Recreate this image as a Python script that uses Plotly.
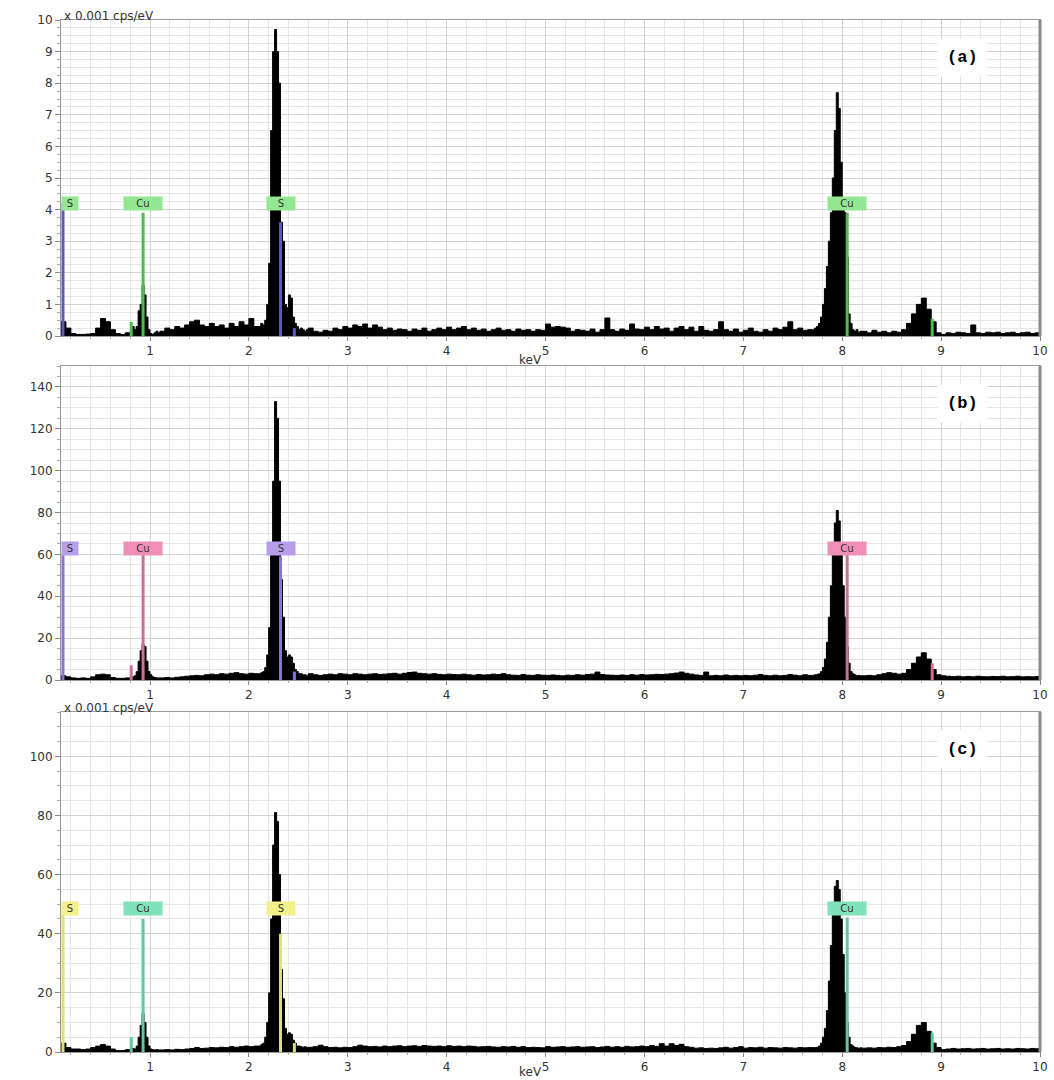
import plotly.graph_objects as go

# ---------------- data ----------------
energy_kev = [
    0.10, 0.15, 0.20, 0.25, 0.30, 0.35, 0.40, 0.45, 0.50, 0.55, 0.60, 0.65, 0.70, 0.75,
    0.80, 0.82, 0.84, 0.86, 0.88, 0.90, 0.92, 0.94, 0.96, 0.98, 1.00, 1.02, 1.04, 1.06, 1.08,
    1.10, 1.15, 1.20, 1.25, 1.30, 1.35, 1.40, 1.45, 1.50, 1.55, 1.60, 1.65, 1.70, 1.75, 1.80,
    1.85, 1.90, 1.95, 2.00, 2.05,
    2.10, 2.12, 2.14, 2.16, 2.18, 2.20, 2.22, 2.24, 2.26, 2.28, 2.30, 2.32, 2.34, 2.36, 2.38,
    2.40, 2.42, 2.44, 2.46, 2.48, 2.50, 2.52, 2.54, 2.56, 2.58,
    2.60, 2.65, 2.70, 2.75, 2.80, 2.85, 2.90, 2.95,
    3.00, 3.05, 3.10, 3.15, 3.20, 3.25, 3.30, 3.35, 3.40, 3.45, 3.50, 3.55, 3.60, 3.65, 3.70, 3.75, 3.80, 3.85, 3.90, 3.95,
    4.00, 4.05, 4.10, 4.15, 4.20, 4.25, 4.30, 4.35, 4.40, 4.45, 4.50, 4.55, 4.60, 4.65, 4.70, 4.75, 4.80, 4.85, 4.90, 4.95,
    5.00, 5.05, 5.10, 5.15, 5.20, 5.25, 5.30, 5.35, 5.40, 5.45, 5.50, 5.55, 5.60, 5.65, 5.70, 5.75, 5.80, 5.85, 5.90, 5.95,
    6.00, 6.05, 6.10, 6.15, 6.20, 6.25, 6.30, 6.35, 6.40, 6.45, 6.50, 6.55, 6.60, 6.65, 6.70, 6.75, 6.80, 6.85, 6.90, 6.95,
    7.00, 7.05, 7.10, 7.15, 7.20, 7.25, 7.30, 7.35, 7.40, 7.45, 7.50, 7.55, 7.60, 7.65,
    7.70, 7.72, 7.74, 7.76, 7.78, 7.80, 7.82, 7.84, 7.86, 7.88, 7.90, 7.92, 7.94, 7.96, 7.98,
    8.00, 8.02, 8.04, 8.06, 8.08, 8.10, 8.12, 8.14, 8.16, 8.18,
    8.20, 8.25, 8.30, 8.35, 8.40, 8.45, 8.50, 8.55, 8.60, 8.65, 8.70, 8.75, 8.80, 8.85, 8.90, 8.95,
    9.00, 9.05, 9.10, 9.15, 9.20, 9.25, 9.30, 9.35, 9.40, 9.45, 9.50, 9.55, 9.60, 9.65, 9.70, 9.75, 9.80, 9.85, 9.90, 9.95,
    10.0,
]

counts_a = [
    0.45, 0.25, 0.08, 0.05, 0.05, 0.06, 0.08, 0.25, 0.55, 0.45, 0.2, 0.08, 0.05, 0.1,
    0.15, 0.3, 0.2, 0.3, 0.8, 1.0, 1.6, 1.3, 0.6, 0.2, 0.08, 0.05, 0.1, 0.15, 0.1,
    0.15, 0.25, 0.2, 0.3, 0.25, 0.35, 0.45, 0.5, 0.35, 0.3, 0.4, 0.3, 0.35, 0.25, 0.4, 0.3, 0.45, 0.35, 0.55, 0.3,
    0.3, 0.4, 0.35, 0.5, 1.0, 2.3, 6.5, 9.0, 9.7, 9.0, 8.0, 3.6, 3.0, 1.0, 0.9, 1.3, 1.2, 0.6, 0.4, 0.3, 0.2, 0.25, 0.2, 0.15, 0.2,
    0.25, 0.15, 0.12, 0.18, 0.15, 0.25, 0.2, 0.3,
    0.25, 0.35, 0.3, 0.38, 0.25, 0.35, 0.28, 0.2, 0.25, 0.18, 0.22, 0.2, 0.15, 0.22, 0.18, 0.25, 0.15, 0.2, 0.25, 0.2,
    0.28, 0.2, 0.25, 0.3, 0.2, 0.25, 0.18, 0.22, 0.15, 0.2, 0.25, 0.18, 0.2, 0.15, 0.22, 0.18, 0.2, 0.15, 0.2, 0.18,
    0.38, 0.28, 0.3, 0.28, 0.25, 0.15, 0.2, 0.18, 0.15, 0.22, 0.12, 0.2, 0.57, 0.2, 0.15, 0.22, 0.18, 0.38, 0.22, 0.2,
    0.28, 0.2, 0.3, 0.22, 0.25, 0.15, 0.25, 0.3, 0.2, 0.28, 0.15, 0.3, 0.18, 0.15, 0.2, 0.45, 0.2, 0.15, 0.22, 0.12,
    0.18, 0.25, 0.15, 0.12, 0.2, 0.15, 0.25, 0.2, 0.28, 0.45, 0.2, 0.25, 0.18, 0.2,
    0.2, 0.25, 0.3, 0.4, 0.6, 1.0, 1.5, 2.2, 3.0, 3.9, 5.0, 6.5, 7.7, 7.2, 5.5, 4.2, 3.9, 2.5, 0.7, 0.4, 0.2, 0.15, 0.2, 0.12, 0.15,
    0.15, 0.1, 0.18, 0.12, 0.15, 0.1, 0.15, 0.12, 0.2, 0.4, 0.7, 1.0, 1.2, 0.85, 0.45, 0.1,
    0.05, 0.1, 0.08, 0.12, 0.1, 0.08, 0.35, 0.1, 0.08, 0.12, 0.1, 0.12, 0.08, 0.1, 0.12, 0.08, 0.1, 0.12, 0.08, 0.1,
    0.08,
]

counts_b = [
    2, 1.5, 1, 0.8, 1, 0.8, 1.5, 2.5, 2.8, 2.5, 1.2, 0.8, 0.8, 1.0,
    1.5, 1.5, 2, 4, 9, 14, 17, 16, 9, 4, 2.5, 1.5, 1.2, 1, 1,
    1.0, 1.2, 1.0, 1.3, 1.5, 1.8, 2.0, 2.2, 2.0, 2.5, 2.8, 2.5, 3.0, 2.8, 3.2, 3.5, 3.0, 2.8, 3.2, 3.0,
    3, 3.5, 4, 6, 12, 25, 60, 95, 133, 125, 95, 48, 30, 14, 11, 12, 11, 8, 5, 4, 3, 3, 2.5, 2.5, 2,
    3, 2.5, 2.2, 2.5, 2.8, 2.5, 3.0, 2.8,
    2.5, 3.0, 2.8, 2.5, 2.8, 3.0, 2.7, 2.8, 3.0, 3.2, 2.8, 3.2, 3.6, 3.8, 3.2, 3.0, 2.8, 3.0, 2.7, 2.5,
    2.8, 2.6, 2.5, 2.8, 2.5, 2.3, 2.6, 2.4, 2.5, 2.8, 2.6, 3.0, 2.5, 2.3, 2.2, 2.6, 2.3, 2.2, 2.5, 2.3,
    2.2, 2.4, 2.2, 2.0, 2.3, 2.2, 2.5, 2.3, 2.6, 2.8, 3.8, 2.6, 2.4, 2.3, 2.2, 2.4, 2.2, 2.5, 2.3, 2.6,
    2.4, 2.5, 2.7, 2.6, 2.8, 3.0, 3.3, 3.8, 3.2, 2.8, 2.4, 2.2, 3.8, 2.0, 2.2, 2.0, 2.4, 2.0, 2.2, 2.0,
    2.2, 2.0, 2.3, 2.6, 2.2, 2.0, 2.3, 2.0, 2.2, 2.6, 2.3, 2.0, 2.5, 2.2,
    2.2, 2.5, 2.6, 3.0, 4.0, 6, 10, 18, 30, 45, 62, 75, 81, 76, 62, 45, 30, 16, 8, 4, 3, 2.5, 2.0, 2.2, 2.0,
    2.0, 2.2, 2.0, 2.5, 3.0, 3.5, 3.2, 2.8, 3.2, 5, 8, 11, 13, 10, 5, 2.5,
    2.0, 1.8, 1.6, 1.8, 1.5, 1.7, 1.5, 1.8, 1.6, 1.5, 1.7, 1.6, 1.8, 1.5, 1.6, 1.8, 1.5, 1.6, 1.5, 1.7,
    1.6,
]

counts_c = [
    3, 1.5, 1, 1, 0.8, 1, 1.5, 2, 2.5, 2, 1, 0.5, 0.5, 0.8,
    1, 1.2, 1, 2, 5, 9, 13, 10, 5, 2, 1, 0.8, 0.7, 0.8, 0.7,
    0.7, 0.8, 0.7, 0.9, 0.8, 1.0, 1.2, 1.5, 1.2, 1.3, 1.5, 1.4, 1.6, 1.5, 1.8, 1.6, 1.8, 2.0, 1.8, 2.0,
    2, 2.5, 3, 5, 10, 20, 45, 70, 81, 78, 60, 28, 18, 8, 6, 6.5, 6, 4, 3, 2, 2, 1.8, 1.6, 1.8, 1.5,
    1.6, 1.8, 2.3, 1.8, 1.5, 1.6, 1.4, 1.6,
    1.5, 1.8, 2.3, 2.0, 1.8, 1.9, 1.7, 2.0, 1.8, 2.0, 2.1, 1.8, 2.0, 2.1, 1.9, 2.2, 2.0, 1.9, 2.0, 1.8,
    2.1, 1.9, 2.0, 1.8, 2.0, 1.9, 1.7, 1.8, 1.9, 1.7, 1.6, 1.8, 1.7, 1.9, 1.6, 1.8, 1.5, 1.6, 1.5, 1.4,
    1.8, 1.6, 1.7, 1.8, 1.6, 1.7, 1.8, 1.6, 1.7, 1.8, 1.5, 1.7, 1.9, 1.6, 1.8, 1.6, 1.9, 1.7, 1.8, 2.0,
    1.8, 2.2, 1.9, 2.8, 2.0, 2.8, 2.2, 2.6, 1.8, 1.6, 1.3, 1.4, 1.2, 1.3, 1.2, 1.4, 1.6, 1.3, 1.5, 1.8,
    1.3, 1.5, 1.4, 1.6, 1.3, 1.5, 1.4, 1.3, 1.5, 1.4, 1.3, 1.5, 1.4, 1.5,
    1.5, 1.5, 1.6, 2.0, 3, 5, 8, 14, 24, 36, 48, 56, 58, 55, 45, 33, 20, 10, 5, 2.5, 2.0, 1.5, 1.4, 1.3, 1.4,
    1.3, 1.4, 1.3, 1.5, 1.4, 1.6, 1.5, 1.8, 2.2, 3.5, 6, 9, 10, 7, 3, 1.5,
    0.8, 1.0, 1.2, 1.0, 1.1, 1.2, 1.0, 1.1, 1.2, 1.0, 1.1, 1.2, 1.0, 1.1, 1.0, 1.2, 1.1, 1.0, 1.2, 1.1,
    1.0,
]

# element identification markers (keV), shared by the three spectra
marker_energy = [0.12, 0.81, 0.93, 2.32, 2.46, 8.05, 8.91]
marker_element = ["S", "Cu", "Cu", "S", "S", "Cu", "Cu"]
marker_labeled = [True, False, True, True, False, True, False]
marker_height_a = [4.2, 0.45, 3.9, 3.6, 0.25, 3.9, 0.55]
marker_height_b = [60, 7, 60, 59, 4, 60, 8]
marker_height_c = [48, 5, 45, 40, 3, 45.5, 6.5]
label_level = [4.2, 63, 48.5]

panel_letters = ["(a)", "(b)", "(c)"]
y_ranges = [[0, 10], [0, 150], [0, 115]]
y_dticks = [1, 20, 20]
y_minor = [0.25, 5, 5]
x_tick_values = [1, 2, 3, 4, 5, 6, 7, 8, 9, 10]

for arr in (counts_a, counts_b, counts_c):
    assert len(arr) == len(energy_kev), (len(arr), len(energy_kev))

# ---------------- styling ----------------
W, H = 1054, 1080
px_left, px_right = 61, 1040
panel_px = [(20, 336), (366, 680), (712, 1052)]  # (top, bottom) in pixels

line_colors = [
    {"S": "#5a5ab8", "Cu": "#48bf48"},
    {"S": "#8c72d4", "Cu": "#cc6f99"},
    {"S": "#e2e070", "Cu": "#5cc9a0"},
]
label_colors = [
    {"S": "#93e793", "Cu": "#93e793"},
    {"S": "#b89de9", "Cu": "#ef8fb7"},
    {"S": "#f3f18a", "Cu": "#80e2ba"},
]

counts_all = [counts_a, counts_b, counts_c]
heights_all = [marker_height_a, marker_height_b, marker_height_c]
tick_font = dict(family="DejaVu Sans", size=12, color="#333")

fig = go.Figure()
shapes = []
annotations = []
layout_axes = {}

for i in range(3):
    sfx = "" if i == 0 else str(i + 1)
    xa, ya = "x" + sfx, "y" + sfx
    top, bot = panel_px[i]
    fig.add_trace(go.Scatter(
        x=energy_kev, y=counts_all[i], xaxis=xa, yaxis=ya,
        mode="lines", line=dict(color="black", width=1, shape="hv"),
        fill="tozeroy", fillcolor="black", hoverinfo="skip", showlegend=False,
    ))

    layout_axes["xaxis" + sfx] = dict(
        domain=[px_left / W, px_right / W], anchor=ya, range=[0.1, 10],
        tickvals=x_tick_values, ticktext=[str(v) for v in x_tick_values],
        ticks="outside", ticklen=4, tickcolor="#888",
        showgrid=True, gridcolor="#d2d2d2", gridwidth=1,
        minor=dict(dtick=0.2, showgrid=True, gridcolor="#e6e6e6", ticks="outside", ticklen=2, tickcolor="#aaa"),
        showline=True, linecolor="#999", linewidth=1, mirror=True,
        tickfont=tick_font, zeroline=False, automargin=False,
    )
    layout_axes["yaxis" + sfx] = dict(
        domain=[1 - bot / H, 1 - top / H], anchor=xa, range=y_ranges[i],
        dtick=y_dticks[i], tick0=0,
        ticks="outside", ticklen=5, tickcolor="#888",
        showgrid=True, gridcolor="#d2d2d2", gridwidth=1,
        minor=dict(dtick=y_minor[i], showgrid=True, gridcolor="#e6e6e6", ticks="outside", ticklen=3, tickcolor="#aaa"),
        showline=True, linecolor="#999", linewidth=1, mirror=True,
        tickfont=tick_font, zeroline=False, automargin=False,
    )

    # right frame edge (thicker)
    shapes.append(dict(type="line", xref="paper", yref="paper",
                       x0=px_right / W, x1=px_right / W, y0=1 - bot / H, y1=1 - top / H,
                       line=dict(color="#8a8a8a", width=3)))

    # element marker lines and labels
    for e, el, lab, h in zip(marker_energy, marker_element, marker_labeled, heights_all[i]):
        shapes.append(dict(type="line", xref=xa, yref=ya, x0=e, x1=e, y0=0, y1=h,
                           line=dict(color=line_colors[i][el], width=3), layer="above"))
        if lab:
            near_edge = e < 0.2
            annotations.append(dict(
                x=0.1 if near_edge else e, y=label_level[i], xref=xa, yref=ya,
                text=el, showarrow=False, xanchor="left" if near_edge else "center",
                yanchor="middle", bgcolor=label_colors[i][el], borderpad=1,
                font=dict(family="DejaVu Sans", size=10, color="#333"),
                width=14 if near_edge else (36 if el == "Cu" else 26),
            ))

    # panel letter
    annotations.append(dict(
        x=962 / W, y=1 - (top + 37) / H, xref="paper", yref="paper",
        text="<b>" + panel_letters[i] + "</b>", showarrow=False,
        font=dict(family="Liberation Mono", size=17, color="black"),
        bgcolor="white", borderpad=9, xanchor="center", yanchor="middle",
    ))

# axis titles
for top in (panel_px[0][0], panel_px[2][0]):
    annotations.append(dict(x=62 / W, y=1 - (top - 4) / H, xref="paper", yref="paper",
                            text="x 0.001 cps/eV", showarrow=False, xanchor="left", yanchor="middle",
                            font=dict(family="DejaVu Sans", size=12, color="#333")))
for ypix in (360, 1072):
    annotations.append(dict(x=530 / W, y=1 - ypix / H, xref="paper", yref="paper",
                            text="keV", showarrow=False, xanchor="center", yanchor="middle",
                            font=dict(family="DejaVu Sans", size=12, color="#333")))

fig.update_layout(
    width=W, height=H, margin=dict(l=0, r=0, t=0, b=0, autoexpand=False),
    paper_bgcolor="white", plot_bgcolor="white",
    showlegend=False, shapes=shapes, annotations=annotations,
    **layout_axes,
)

fig.write_html("out.html", config={"displayModeBar": False},
               post_script="document.body.style.margin='0';")
